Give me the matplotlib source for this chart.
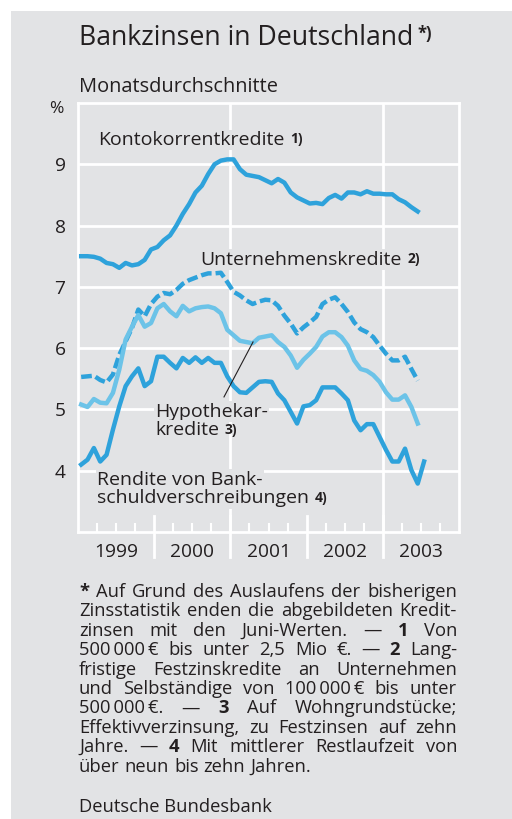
import matplotlib
matplotlib.use('Agg')
import matplotlib.pyplot as plt
import matplotlib.transforms as mtransforms
from matplotlib.patches import Rectangle

# Monatsdurchschnitte in %, Jan 1999 .. Jun 2003 (Rendite bis Jul 2003)
kontokorrent = [7.50, 7.50, 7.49, 7.46, 7.39, 7.37, 7.31, 7.39, 7.35, 7.37, 7.44, 7.61,
                7.65, 7.76, 7.84, 8.00, 8.19, 8.35, 8.54, 8.65, 8.84, 9.00, 9.06, 9.08,
                9.08, 8.92, 8.83, 8.81, 8.79, 8.74, 8.69, 8.76, 8.70, 8.54, 8.46, 8.41,
                8.36, 8.37, 8.35, 8.45, 8.50, 8.44, 8.54, 8.54, 8.51, 8.56, 8.52, 8.52,
                8.51, 8.51, 8.43, 8.38, 8.30, 8.23]
unternehmen = [5.53, 5.54, 5.55, 5.48, 5.44, 5.57, 5.89, 6.11, 6.33, 6.63, 6.52, 6.72,
               6.84, 6.90, 6.88, 6.95, 7.05, 7.11, 7.15, 7.19, 7.22, 7.22, 7.23, 7.08,
               6.92, 6.86, 6.78, 6.72, 6.76, 6.79, 6.78, 6.69, 6.53, 6.40, 6.24, 6.34,
               6.42, 6.51, 6.72, 6.79, 6.83, 6.72, 6.59, 6.42, 6.31, 6.26, 6.18, 6.04,
               5.91, 5.80, 5.80, 5.86, 5.66, 5.47]
hypothekar = [5.08, 5.04, 5.17, 5.11, 5.10, 5.27, 5.65, 6.14, 6.35, 6.54, 6.35, 6.41,
              6.65, 6.72, 6.60, 6.52, 6.69, 6.60, 6.65, 6.67, 6.68, 6.65, 6.57, 6.30,
              6.21, 6.12, 6.10, 6.08, 6.17, 6.19, 6.21, 6.10, 6.02, 5.88, 5.68, 5.81,
              5.91, 6.02, 6.19, 6.26, 6.26, 6.18, 6.04, 5.80, 5.66, 5.63, 5.56, 5.45,
              5.28, 5.16, 5.16, 5.23, 5.04, 4.77]
rendite = [4.10, 4.18, 4.37, 4.15, 4.26, 4.67, 5.05, 5.38, 5.54, 5.67, 5.38, 5.46,
           5.86, 5.86, 5.76, 5.67, 5.84, 5.76, 5.85, 5.76, 5.84, 5.76, 5.76, 5.54,
           5.38, 5.28, 5.27, 5.36, 5.45, 5.46, 5.45, 5.26, 5.15, 4.96, 4.77, 5.05,
           5.07, 5.15, 5.36, 5.36, 5.36, 5.26, 5.15, 4.82, 4.66, 4.76, 4.76, 4.55,
           4.34, 4.15, 4.15, 4.36, 4.01, 3.79, 4.15]

years = [1999, 2000, 2001, 2002, 2003]
yticks = [4, 5, 6, 7, 8, 9]

footnote = [
    "* Auf Grund des Auslaufens der bisherigen",
    "Zinsstatistik enden die abgebildeten Kredit-",
    "zinsen mit den Juni-Werten. \u2014 1 Von",
    "500\u2009000\u2009\u20ac bis unter 2,5 Mio \u20ac. \u2014 2 Lang-",
    "fristige Festzinskredite an Unternehmen",
    "und Selbst\u00e4ndige von 100\u2009000\u2009\u20ac bis unter",
    "500\u2009000\u2009\u20ac. \u2014 3 Auf Wohngrundst\u00fccke;",
    "Effektivverzinsung, zu Festzinsen auf zehn",
    "Jahre. \u2014 4 Mit mittlerer Restlaufzeit von",
    "\u00fcber neun bis zehn Jahren.",
]
bold_tokens = {"*", "1", "2", "3", "4"}

BG = '#e2e3e5'
BLUE = '#2ea2db'
LIGHT = '#6cc3e8'
INK = '#231f20'
FN = 13.2  # footnote size

plt.rcParams['font.family'] = ['Open Sans', 'DejaVu Sans']
plt.rcParams['text.color'] = INK

W, H = 512, 819
fig = plt.figure(figsize=(W / 100, H / 100), dpi=100, facecolor='white')
fig.patches.append(Rectangle((11 / W, 0), 1, (H - 11) / H, transform=fig.transFigure,
                             facecolor=BG, edgecolor='none', zorder=-10))


def px(x, y):
    # pixel (from top-left) -> figure fraction
    return x / W, 1 - y / H


ax = fig.add_axes([78 / W, 1 - 532 / H, (459 - 78) / W, (532 - 103) / H])
ax.set_facecolor(BG)
ax.set_xlim(1999, 2004)
ax.set_ylim(3, 10)

for s in ax.spines.values():
    s.set_color('white')
    s.set_linewidth(2)

for v in yticks:
    ax.axhline(v, color='white', lw=2, zorder=1)
for yr in (2001, 2003):
    ax.axvline(yr, color='white', lw=2, zorder=1)

ax.set_yticks(yticks)
ax.set_yticklabels([str(v) for v in yticks])
ax.tick_params(axis='y', length=0, pad=9, labelsize=13.8, labelcolor=INK)
ax.set_xticks([])
ax.set_xticks([y + q / 4 for y in range(1999, 2004) for q in (1, 2, 3)], minor=True)
ax.tick_params(axis='x', which='minor', direction='in', length=6.5, width=1.5,
               color='white')

# year separators crossing the bottom axis
trans = mtransforms.blended_transform_factory(ax.transData, ax.transAxes)
for yr in (2000, 2001, 2002, 2003):
    ax.plot([yr, yr], [0.037, -0.058], color='white', lw=2, transform=trans,
            clip_on=False, zorder=3)
for yr in years:
    ax.text(yr + 0.5, -0.047, str(yr), transform=trans, ha='center', va='center',
            fontsize=13.8)

ax.text(-0.058, 0.985, '%', transform=ax.transAxes, ha='center', va='center',
        fontsize=12.5)

months = [1999 + (i + 0.5) / 12 for i in range(len(rendite))]
ax.plot(months[:len(kontokorrent)], kontokorrent, color=BLUE, lw=3.2, zorder=4)
ax.plot(months[:len(unternehmen)], unternehmen, color=BLUE, lw=3.2,
        linestyle=(0, (2.4, 0.9)), zorder=4)
ax.plot(months[:len(hypothekar)], hypothekar, color=LIGHT, lw=3.2, zorder=4)
ax.plot(months, rendite, color=BLUE, lw=3.2, zorder=4)

box = dict(facecolor=BG, edgecolor='none', pad=1)


def label(x, y, s, sup=None):
    t = ax.text(x, y, s, fontsize=14, va='baseline', ha='left', bbox=box, zorder=5)
    if sup:
        ax.annotate(sup, xy=(1, 1), xycoords=t, xytext=(4, -1),
                    textcoords='offset points', va='top', ha='left',
                    fontsize=10, fontweight='bold', zorder=6)
    return t


label(1999.26, 9.315, 'Kontokorrentkredite', '1)')
label(2000.61, 7.36, 'Unternehmenskredite', '2)')
label(2000.01, 4.88, 'Hypothekar-')
label(2000.01, 4.58, 'kredite', '3)')
label(1999.25, 3.77, 'Rendite von Bank-')
label(1999.25, 3.47, 'schuldverschreibungen', '4)')
ax.plot([2000.916, 2001.297], [5.204, 6.101], color=INK, lw=0.8, zorder=6)

# title and subtitle
tt = fig.text(*px(79, 45), 'Bankzinsen in Deutschland', fontsize=19.2, va='baseline')
ax.annotate('*)', xy=(1, 1), xycoords=tt, xytext=(3, -1), textcoords='offset points',
            va='top', ha='left', fontsize=12, fontweight='bold', annotation_clip=False)
fig.text(*px(79, 92), 'Monatsdurchschnitte', fontsize=14.4, va='baseline')

# justified footnote
renderer = fig.canvas.get_renderer()
x0, x1 = 79, 457
for n, line in enumerate(footnote):
    yb = 597 + n * 19.4
    items = []
    for tok in line.split(' '):
        t = fig.text(0, 0, tok, fontsize=FN, va='baseline',
                     fontweight='bold' if tok in bold_tokens else 'normal')
        items.append((t, t.get_window_extent(renderer).width))
    total = sum(w for _, w in items)
    if n == len(footnote) - 1:
        gap = 5
    else:
        gap = (x1 - x0 - total) / (len(items) - 1)
    x = x0
    for t, w in items:
        t.set_position(px(x, yb))
        x += w + gap

fig.text(*px(79, 812.5), 'Deutsche Bundesbank', fontsize=FN, va='baseline')

fig.savefig('out.png', dpi=100, facecolor='white')
